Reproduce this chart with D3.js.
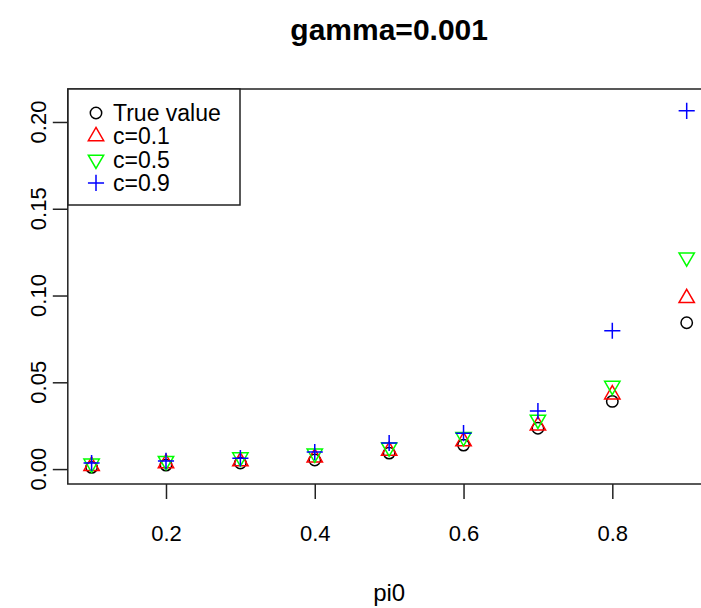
<!DOCTYPE html>
<html>
<head>
<meta charset="utf-8">
<script src="https://cdn.jsdelivr.net/npm/d3@7"></script>
<style>
    body { margin: 0; background: #fff; }
    text { font-family: "Liberation Sans", Arial, sans-serif; fill: #000; }
</style>
</head>
<body>
<script>
// values
var pi0       = [0.1, 0.2, 0.3, 0.4, 0.5, 0.6, 0.7, 0.8, 0.9];
var trueValue = [0.0010, 0.0023, 0.0035, 0.0052, 0.0092, 0.0138, 0.0235, 0.0390, 0.0843];
var c01       = [0.0018, 0.0033, 0.0044, 0.0066, 0.0105, 0.0160, 0.0250, 0.0430, 0.0985];
var c05       = [0.0032, 0.0047, 0.0068, 0.0090, 0.0125, 0.0185, 0.0285, 0.0480, 0.1220];
var c09       = [0.0035, 0.0047, 0.0063, 0.0098, 0.0150, 0.0207, 0.0334, 0.0797, 0.2064];
var xTicks    = [0.2, 0.4, 0.6, 0.8];
var yTicks    = [0.00, 0.05, 0.10, 0.15, 0.20];
var legendLabels = ["True value", "c=0.1", "c=0.5", "c=0.9"];

var w = 701, h = 608;

var svg = d3.select("body").append("svg")
    .attr("width", w)
    .attr("height", h);

// scales (plot box runs a bit past the right edge of the picture)
var x = d3.scaleLinear().domain([0.068, 0.932]).range([67.8, 710.5]);
var y = d3.scaleLinear().domain([-0.0086, 0.219]).range([484, 89]);

var r = 5.7; // circle radius, other symbols sized from it like R does

function triUp(s) {
    var a = 1.555 * s, b = 1.347 * s, c = 0.778 * s;
    return "M0," + (-a) + "L" + b + "," + c + "L" + (-b) + "," + c + "Z";
}
function triDown(s) {
    var a = 1.555 * s, b = 1.347 * s, c = 0.778 * s;
    return "M0," + a + "L" + b + "," + (-c) + "L" + (-b) + "," + (-c) + "Z";
}
function plus(s) {
    var a = 1.414 * s;
    return "M" + (-a) + ",0H" + a + "M0," + (-a) + "V" + a;
}

var series = [
    { name: legendLabels[0], values: trueValue, color: "#000000", shape: "circle" },
    { name: legendLabels[1], values: c01, color: "#FF0000", shape: triUp },
    { name: legendLabels[2], values: c05, color: "#00FF00", shape: triDown },
    { name: legendLabels[3], values: c09, color: "#0000FF", shape: plus }
];

function drawSymbol(g, s) {
    if (s.shape === "circle") {
        g.append("circle").attr("r", r)
            .attr("fill", "none").attr("stroke", s.color).attr("stroke-width", 1.5);
    } else {
        g.append("path").attr("d", s.shape(r))
            .attr("fill", "none").attr("stroke", s.color).attr("stroke-width", 1.5);
    }
}

// points
series.forEach(function(s) {
    svg.append("g").selectAll("g")
        .data(s.values)
        .enter()
        .append("g")
        .attr("transform", function(d, i) {
            return "translate(" + x(pi0[i]) + "," + y(d) + ")";
        })
        .each(function() { drawSymbol(d3.select(this), s); });
});

// box
svg.append("rect")
    .attr("x", x.range()[0])
    .attr("y", y.range()[1])
    .attr("width", x.range()[1] - x.range()[0])
    .attr("height", y.range()[0] - y.range()[1])
    .attr("fill", "none")
    .attr("stroke", "#222")
    .attr("stroke-width", 1.5);

// x axis
var xAxis = svg.append("g")
    .attr("transform", "translate(0," + y.range()[0] + ")")
    .call(d3.axisBottom(x).tickValues(xTicks).tickSize(15).tickPadding(26).tickFormat(d3.format(".1f")));
xAxis.select(".domain").remove();
xAxis.selectAll("line").attr("stroke", "#222").attr("stroke-width", 1.5);
xAxis.selectAll("text").style("font-size", "22px").attr("fill", "#000");

// y axis, labels turned like R
var yAxis = svg.append("g")
    .attr("transform", "translate(" + x.range()[0] + ",0)")
    .call(d3.axisLeft(y).tickValues(yTicks).tickSize(15).tickFormat(""));
yAxis.select(".domain").remove();
yAxis.selectAll("line").attr("stroke", "#222").attr("stroke-width", 1.5);

svg.append("g").selectAll("text")
    .data(yTicks)
    .enter()
    .append("text")
    .attr("transform", function(d) { return "translate(46," + y(d) + ") rotate(-90)"; })
    .attr("text-anchor", "middle")
    .style("font-size", "22px")
    .text(d3.format(".2f"));

// title and x label
var cx = (x.range()[0] + x.range()[1]) / 2;
svg.append("text")
    .attr("x", cx).attr("y", 40)
    .attr("text-anchor", "middle")
    .style("font-size", "30px")
    .style("font-weight", "bold")
    .text("gamma=0.001");

svg.append("text")
    .attr("x", cx).attr("y", 601)
    .attr("text-anchor", "middle")
    .style("font-size", "24px")
    .text("pi0");

// legend
var legend = svg.append("g");
legend.append("rect")
    .attr("x", 68).attr("y", 89)
    .attr("width", 172).attr("height", 116)
    .attr("fill", "#fff")
    .attr("stroke", "#222")
    .attr("stroke-width", 1.5);

var items = legend.selectAll(".item")
    .data(series)
    .enter()
    .append("g")
    .attr("class", "item")
    .attr("transform", function(d, i) { return "translate(96," + (113 + i * 23.3) + ")"; });

items.each(function(s) { drawSymbol(d3.select(this), s); });

items.append("text")
    .attr("x", 17)
    .attr("y", 8)
    .style("font-size", "23px")
    .text(function(d) { return d.name; });
</script>
</body>
</html>
